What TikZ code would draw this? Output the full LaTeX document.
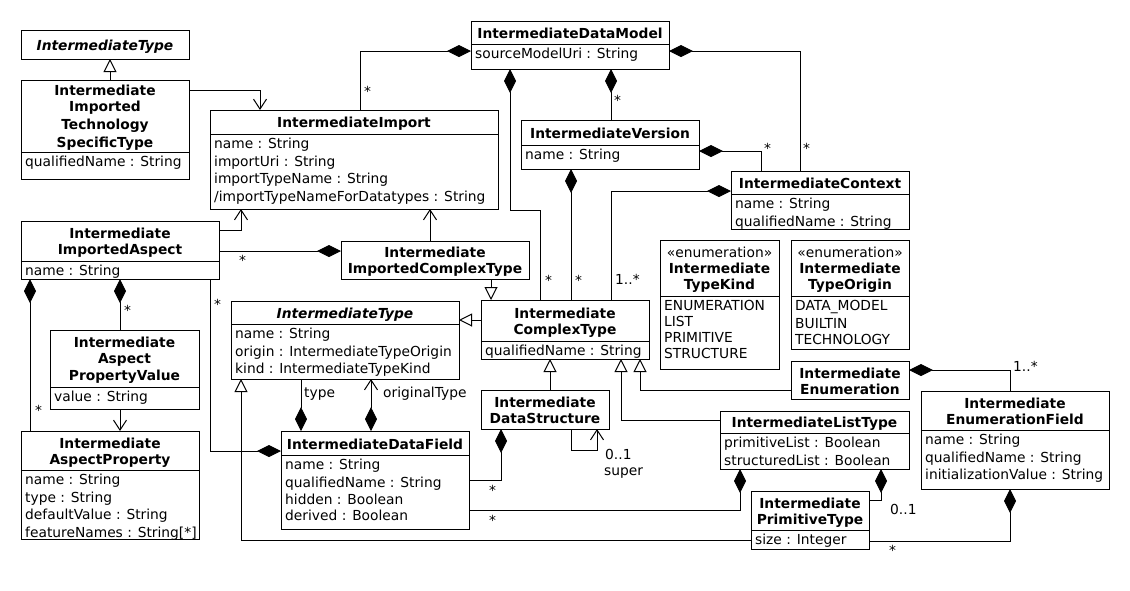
\documentclass[tikz,border=0pt]{standalone}
\usepackage{fontspec}
\setmainfont{DejaVu Sans}
\usetikzlibrary{arrows.meta,calc}

\newcommand\diagfont{\fontsize{13.8pt}{16pt}\selectfont}
\newcommand\ustrut{\rule[-2pt]{0pt}{16pt}}
% class box: name, x, y, width, height, height of the name compartment, name text, attributes
\newcommand\umlclass[8]{%
  \node[classbox, minimum width=#4pt, minimum height=#5pt] (#1) at (#2,#3) {};
  \draw[conn] ($(#1.north west)+(0,#6)$) -- ($(#1.north east)+(0,#6)$);
  \node[classname] (#1-name) at ($(#1.north)+(0,#6/2)$) {#7};
  \node[classattr] (#1-attr) at ($(#1.north west)+(4,#6)$) {#8};
}
% class box with a name compartment only
\newcommand\umlnameonly[6]{%
  \node[classbox, minimum width=#4pt, minimum height=#5pt] (#1) at (#2,#3) {};
  \node[classname] (#1-name) at (#1.center) {#6};
}

\begin{document}
\begin{tikzpicture}[x=1pt, y=-1pt,
  classbox/.style={draw, line width=1pt, inner sep=0pt, outer sep=0pt, anchor=north west},
  classname/.style={inner sep=0pt, align=center, font=\diagfont\bfseries},
  classattr/.style={inner sep=0pt, align=left, anchor=north west, font=\diagfont},
  mult/.style={inner sep=0pt, anchor=base west, font=\diagfont},
  conn/.style={line width=1pt},
  gen/.style={conn, -{Triangle[open, length=13pt, width=13pt]}},
  nav/.style={conn, -{Straight Barb[length=10pt, width=13pt]}},
  comp/.style={conn, {Diamond[length=24pt, width=12pt]}-},
  compend/.style={conn, -{Diamond[length=24pt, width=12pt]}},
  compnav/.style={conn, {Diamond[length=24pt, width=12pt]}-{Straight Barb[length=10pt, width=13pt]}},
]
\fill[white] (0,0) rectangle (1130,590);
\useasboundingbox (0,0) rectangle (1130,590);

% ---- classes ----
\umlnameonly{itype1}{21}{30}{168}{29}{\ustrut\itshape IntermediateType}
\umlclass{itst}{21}{80}{168}{99}{72}
  {\ustrut Intermediate\\\ustrut Imported\\\ustrut Technology\\\ustrut SpecificType}
  {\ustrut qualifiedName : String}
\umlclass{import}{210}{110}{288}{99}{24}
  {\ustrut IntermediateImport}
  {\ustrut name : String\\\ustrut importUri : String\\\ustrut importTypeName : String\\\ustrut /importTypeNameForDatatypes : String}
\umlclass{datamodel}{471}{21}{198}{48}{23}
  {\ustrut IntermediateDataModel}
  {\ustrut sourceModelUri : String}
\umlclass{version}{521}{120}{178}{49}{25}
  {\ustrut IntermediateVersion}
  {\ustrut name : String}
\umlclass{context}{731}{171}{178}{58}{23}
  {\ustrut IntermediateContext}
  {\ustrut name : String\\\ustrut qualifiedName : String}
\umlclass{kind}{660}{240}{119}{129}{56}
  {\ustrut\mdseries «enumeration»\\\ustrut Intermediate\\\ustrut TypeKind}
  {\ustrut ENUMERATION\\\ustrut LIST\\\ustrut PRIMITIVE\\\ustrut STRUCTURE}
\umlclass{origin}{791}{240}{118}{109}{56}
  {\ustrut\mdseries «enumeration»\\\ustrut Intermediate\\\ustrut TypeOrigin}
  {\ustrut DATA\_MODEL\\\ustrut BUILTIN\\\ustrut TECHNOLOGY}
\umlnameonly{enumeration}{791}{361}{118}{38}
  {\ustrut Intermediate\\\ustrut Enumeration}
\umlclass{enumfield}{921}{391}{188}{98}{39}
  {\ustrut Intermediate\\\ustrut EnumerationField}
  {\ustrut name : String\\\ustrut qualifiedName : String\\\ustrut initializationValue : String}
\umlclass{complex}{481}{300}{168}{59}{41}
  {\ustrut Intermediate\\\ustrut ComplexType}
  {\ustrut qualifiedName : String}
\umlnameonly{impcomplex}{341}{241}{188}{38}
  {\ustrut Intermediate\\\ustrut ImportedComplexType}
\umlclass{impaspect}{21}{221}{198}{58}{40}
  {\ustrut Intermediate\\\ustrut ImportedAspect}
  {\ustrut name : String}
\umlclass{apv}{50}{330}{149}{79}{57}
  {\ustrut Intermediate\\\ustrut Aspect\\\ustrut PropertyValue}
  {\ustrut value : String}
\umlclass{aspprop}{21}{431}{178}{108}{39}
  {\ustrut Intermediate\\\ustrut AspectProperty}
  {\ustrut name : String\\\ustrut type : String\\\ustrut defaultValue : String\\\ustrut featureNames : String[*]}
\umlclass{itype2}{231}{301}{228}{78}{23}
  {\ustrut\itshape IntermediateType}
  {\ustrut name : String\\\ustrut origin : IntermediateTypeOrigin\\\ustrut kind : IntermediateTypeKind}
\umlclass{datafield}{281}{431}{188}{98}{24}
  {\ustrut IntermediateDataField}
  {\ustrut name : String\\\ustrut qualifiedName : String\\\ustrut hidden : Boolean\\\ustrut derived : Boolean}
\umlnameonly{datastruct}{481}{390}{128}{39}
  {\ustrut Intermediate\\\ustrut DataStructure}
\umlclass{listtype}{720}{411}{189}{58}{22}
  {\ustrut IntermediateListType}
  {\ustrut primitiveList : Boolean\\\ustrut structuredList : Boolean}
\umlclass{primitive}{751}{491}{118}{58}{39}
  {\ustrut Intermediate\\\ustrut PrimitiveType}
  {\ustrut size : Integer}

% ---- generalizations ----
\draw[gen] ($(itst.north west)+(89,0)$) -- ($(itype1.south west)+(89,0)$);
\draw[gen] ($(impcomplex.south west)+(150,0)$) -- ($(complex.north west)+(10,0)$);
\draw[gen] ($(complex.north west)+(0,20)$) -- ($(itype2.north east)+(0,19)$);
\draw[gen] ($(datastruct.north west)+(69,0)$) -- ($(complex.south west)+(69,0)$);
\draw[gen] ($(listtype.north west)+(0,9)$) -| ($(complex.south west)+(140,0)$);
\draw[gen] ($(enumeration.north west)+(0,29)$) -| ($(complex.south west)+(159,0)$);
\draw[gen] ($(primitive.north west)+(0,49)$) -| ($(itype2.south west)+(10,0)$);

% ---- navigable associations ----
\draw[nav] ($(itst.north east)+(0,10)$) -| ($(import.north west)+(50,0)$);
\draw[nav] ($(impcomplex.north west)+(89,0)$) -- ($(import.south west)+(220,0)$);
\draw[nav] ($(impaspect.north east)+(0,9)$) -| ($(import.south west)+(31,0)$);
\draw[nav] ($(apv.south west)+(70,0)$) -- ($(aspprop.north west)+(99,0)$);
\draw[nav] ($(datastruct.south west)+(90,0)$) -- ++(0,21) -| ($(datastruct.south west)+(116,0)$);

% ---- compositions ----
\draw[comp] ($(datamodel.north west)+(0,30)$) -| ($(import.north west)+(150,0)$);
\draw[comp] ($(datamodel.south west)+(39,0)$) -- ++(0,141) -| ($(complex.north west)+(59,0)$);
\draw[comp] ($(datamodel.south west)+(140,0)$) -- ($(version.north west)+(90,0)$);
\draw[comp] ($(datamodel.north east)+(0,30)$) -| ($(context.north west)+(69,0)$);
\draw[comp] ($(version.north east)+(0,31)$) -| ($(context.north west)+(30,0)$);
\draw[comp] ($(version.south west)+(50,0)$) -- ($(complex.north west)+(90,0)$);
\draw[comp] ($(context.north west)+(0,20)$) -| ($(complex.north west)+(130,0)$);
\draw[compend] ($(impaspect.north east)+(0,30)$) -- ($(impcomplex.north west)+(0,10)$);
\draw[comp] ($(impaspect.south west)+(9,0)$) -- ($(aspprop.north west)+(9,0)$);
\draw[comp] ($(impaspect.south west)+(99,0)$) -- ($(apv.north west)+(70,0)$);
\draw[compend] ($(impaspect.south west)+(189,0)$) |- ($(datafield.north west)+(0,20)$);
\draw[comp] ($(datafield.north west)+(20,0)$) -- ($(itype2.south west)+(70,0)$);
\draw[compnav] ($(datafield.north west)+(90,0)$) -- ($(itype2.south west)+(140,0)$);
\draw[comp] ($(datastruct.south west)+(20,0)$) |- ($(datafield.north east)+(0,49)$);
\draw[comp] ($(listtype.south west)+(20,0)$) |- ($(datafield.north east)+(0,79)$);
\draw[comp] ($(listtype.south west)+(161,0)$) |- ($(primitive.north east)+(0,9)$);
\draw[comp] ($(enumeration.north east)+(0,9)$) -| ($(enumfield.north west)+(89,0)$);
\draw[comp] ($(enumfield.south west)+(89,0)$) |- ($(primitive.north east)+(0,50)$);

% ---- multiplicities and role names ----
\node[mult] (m1) at (364,96) {*};
\node[mult] (m2) at (614,105) {*};
\node[mult] (m3) at (764,153) {*};
\node[mult] (m4) at (803,153) {*};
\node[mult] (m5) at (545,285) {*};
\node[mult] (m6) at (575,285) {*};
\node[mult] (m7) at (615,284) {1..*};
\node[mult] (m8) at (239,265) {*};
\node[mult] (m9) at (214,309) {*};
\node[mult] (m10) at (124,315) {*};
\node[mult] (m11) at (35,415) {*};
\node[mult] (r1) at (304,397) {type};
\node[mult] (r2) at (383,397) {originalType};
\node[mult] (m12) at (605,459) {0..1};
\node[mult] (r3) at (604,475) {super};
\node[mult] (m13) at (489,495) {*};
\node[mult] (m14) at (489,525) {*};
\node[mult] (m15) at (890,514) {0..1};
\node[mult] (m16) at (889,555) {*};
\node[mult] (m17) at (1013,371) {1..*};
\end{tikzpicture}
\end{document}
